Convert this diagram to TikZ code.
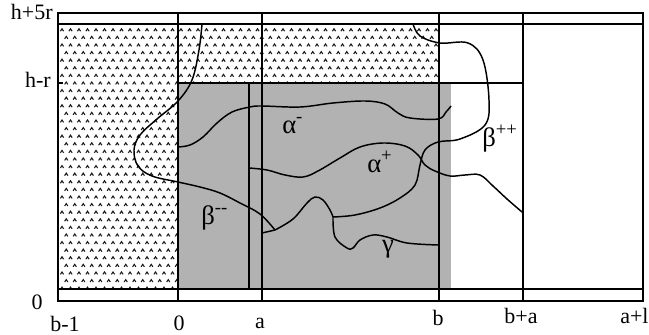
\documentclass[tikz,border=0pt]{standalone}
\usepackage{fontspec}
\setmainfont{Liberation Serif}

\begin{document}
\begin{tikzpicture}[x=0.75pt, y=-0.75pt,
  frame/.style = {line width=1.7pt},
  bound/.style = {line width=1.1pt, smooth, tension=0.6},
  lbl/.style = {font=\fontsize{16.5}{18}\selectfont, inner sep=0pt},
  greek/.style = {font=\fontsize{20}{22}\selectfont, inner sep=0pt},
  caret/.style = {line width=0.8pt, black!90}]

    \useasboundingbox (0,0) rectangle (649,335);

    % shaded regions
    \fill[black!30] (178,83) rectangle (451,289);
    \begin{scope}
      \clip (58,24) -- (439,24) -- (439,83) -- (178,83) -- (178,289) -- (58,289) -- cycle;
      \foreach \i in {0,...,35} {
        \foreach \j in {0,...,45} {
          \pgfmathsetmacro{\xx}{62+8.5*\j+4.25*mod(\i,2)}
          \pgfmathsetmacro{\yy}{30+7.6*\i}
          \draw[caret] (\xx-1.6,\yy+1.2) -- (\xx,\yy-1.2) -- (\xx+1.6,\yy+1.2);
        }
      }
    \end{scope}

    % grid
    \draw[frame] (58,13) rectangle (643,301);
    \draw[frame] (58,24) -- (643,24);
    \draw[frame] (58,289) -- (643,289);
    \foreach \x in {178,262,439,523} \draw[frame] (\x,13) -- (\x,301);
    \draw[frame] (178,83) -- (523,83);
    \draw[frame] (249,83) -- (249,289);
    \draw[frame] (58,83) -- (63,83);

    % boundaries
    \draw[bound] plot coordinates {(202,24) (199,50) (192,80) (178,101) (157,119) (140,135) (134,150) (138,166) (152,176) (178,182) (200,187) (220,193) (240,203) (260,214) (275,230)};
    \draw[bound] plot coordinates {(275,230) (293,219) (307,203) (315,197) (323,200) (330,210) (333,217)};
    \draw[bound] (262,233) -- (275,230);
    \draw[bound] plot coordinates {(413,24) (420,36) (440,43) (468,43) (483,60) (489,100) (485,125) (460,139) (438,142) (425,150) (420,165) (415,185) (400,198) (380,208) (355,215) (333,217)};
    \draw[bound] plot coordinates {(333,217) (335,237) (347,248) (353,248) (360,240) (373,235) (387,237) (407,243) (438,245)};
    \draw[bound] plot coordinates {(178,147) (190,145) (203,137) (217,123) (232,112) (250,107) (262,106) (300,107) (333,103) (365,101) (385,104) (398,113) (410,118) (438,119) (446,112) (451,106)};
    \draw[bound] plot coordinates {(249,168) (267,170) (285,175) (303,177) (318,171) (340,158) (360,147) (383,143) (405,146) (418,155) (425,165) (435,171) (450,176) (465,175) (480,175) (493,186) (507,199) (522,212)};

    % axis labels
    \node[lbl, anchor=base east] (h5r) at (53,20) {h+5r};
    \node[lbl, anchor=base east] (hr) at (51,88) {h-r};
    \node[lbl, anchor=base] (zy) at (37,309) {0};
    \node[lbl, anchor=base] (bm1) at (65,331) {b-1};
    \node[lbl, anchor=base] (zx) at (179,330) {0};
    \node[lbl, anchor=base] (ax) at (260,328) {a};
    \node[lbl, anchor=base] (bx) at (438,325) {b};
    \node[lbl, anchor=base] (bpa) at (521,323) {b+a};
    \node[lbl, anchor=base west] (apl) at (620,323) {a+l};

    % region labels
    \node[greek, anchor=base west] (am) at (282,133) {α\textsuperscript{-}};
    \node[greek, anchor=base west] (ap) at (367,172) {α\textsuperscript{+}};
    \node[greek, anchor=base west] (bpp) at (482,146) {β\textsuperscript{++}};
    \node[greek, anchor=base west] (bmm) at (201,224) {β\textsuperscript{-{}-}};
    \node[greek, anchor=base] (gm) at (388,252) {γ};

\end{tikzpicture}
\end{document}
